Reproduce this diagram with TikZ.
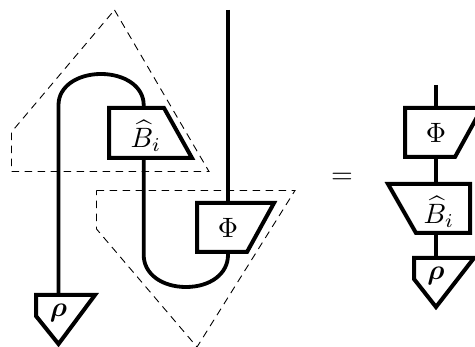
\documentclass[tikz,border=0pt]{standalone}
\usepackage{amsmath}
\tikzset{
  boxline/.style={line width=4pt,miter limit=10,line join=miter,fill=white},
  wire/.style={line width=3.8pt},
  region/.style={line width=0.9pt,dash pattern=on 7.5pt off 5.5pt,black},
  lab/.style={inner sep=0pt,scale=2.8}
}
\begin{document}
\begin{tikzpicture}[x=1pt,y=-1pt]
\useasboundingbox (0,0) rectangle (475,347);
% dashed regions
\draw[region] (114.5,10) -- (209,171.5) -- (11.5,171.5) -- (11.5,132) -- cycle;
\draw[region] (96.5,190.5) -- (295,190.5) -- (197,347) -- (96.5,229) -- cycle;
% left boxes ports
\coordinate (bt) at (143.7,108);
\coordinate (bb) at (143.7,158);
\coordinate (pt) at (228,203);
\coordinate (pb) at (228,252);
\coordinate (rt) at (58.5,295);
\coordinate (ftop) at (228,10);
% wires
\draw[wire] (ftop) -- (pt);
\draw[wire] (bt) -- (143.7,105) .. controls (143.7,86) and (124,74) .. (101,74)
  .. controls (78,74) and (58.5,86) .. (58.5,105) -- (rt);
\draw[wire] (bb) -- (143.7,255) .. controls (143.7,274) and (162,287) .. (186,287)
  .. controls (210,287) and (228,274) .. (228,255) -- (pb);
% left boxes
\draw[boxline] (109,108) -- (164,108) -- (192,158) -- (109,158) -- cycle;
\node[lab] (bl) at (146,136) {$\widehat{B}_i$};
\draw[boxline] (197,203) -- (274,203) -- (247,252) -- (197,252) -- cycle;
\node[lab] (pl) at (228,228) {$\Phi$};
\draw[boxline] (36,295) -- (95,295) -- (58.5,344) -- (36,316) -- cycle;
\node[lab] (rl) at (58.5,313) {$\boldsymbol{\rho}$};
% equals
\node[lab] (eq) at (342,178) {$=$};
% right column
\coordinate (rtop) at (436,85);
\coordinate (r1) at (436,108);
\coordinate (r2) at (436,157);
\coordinate (r3) at (436,184);
\coordinate (r4) at (436,233);
\coordinate (r5) at (436,258);
\draw[wire] (rtop) -- (r1);
\draw[wire] (r2) -- (r3);
\draw[wire] (r4) -- (r5);
\draw[boxline] (405,108) -- (482,108) -- (455,157) -- (405,157) -- cycle;
\node[lab] (pr) at (436,133) {$\Phi$};
\draw[boxline] (388,184) -- (470,184) -- (470,233) -- (416,233) -- cycle;
\node[lab] (br) at (439,212) {$\widehat{B}_i$};
\draw[boxline] (414,258) -- (474,258) -- (436,307) -- (414,279) -- cycle;
\node[lab] (rr) at (436,276) {$\boldsymbol{\rho}$};
\end{tikzpicture}
\end{document}
